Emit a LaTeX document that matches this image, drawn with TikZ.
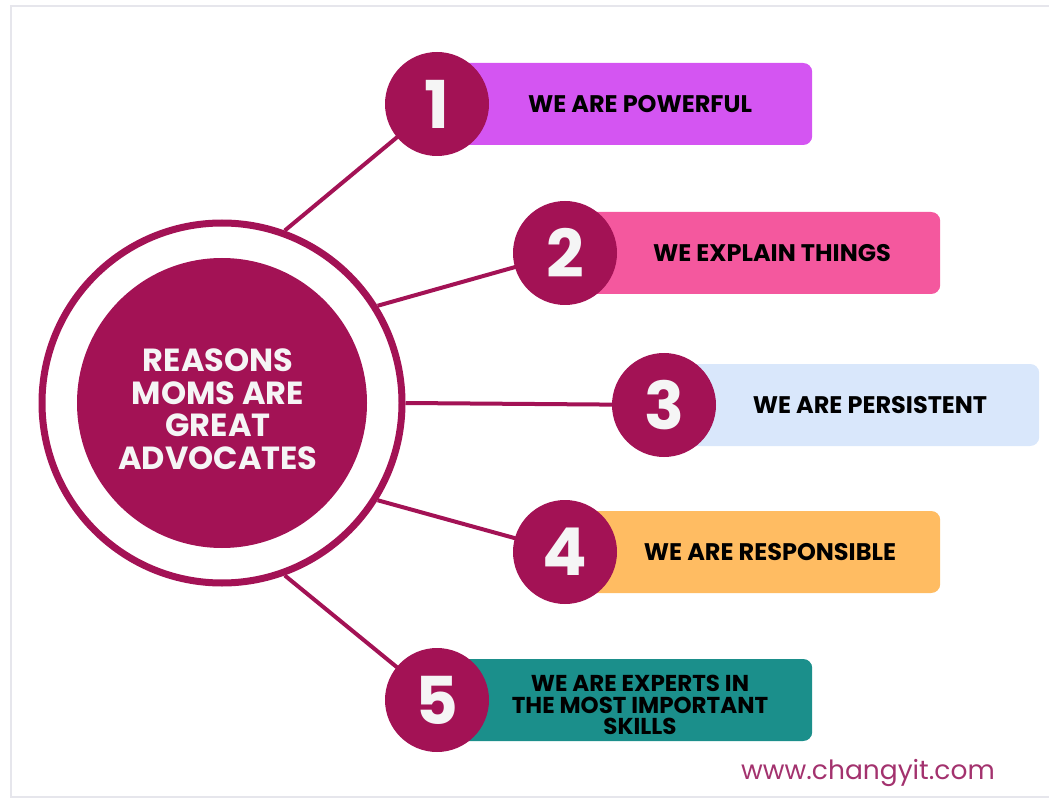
\documentclass[tikz,border=0pt]{standalone}
\usepackage{fontspec}
\setmainfont{Poppins}
\usetikzlibrary{positioning}
\definecolor{wine}{HTML}{A31255}
\definecolor{urlwine}{HTML}{A3326E}
\definecolor{framegray}{HTML}{E6E6EC}
\definecolor{barone}{HTML}{D455F2}
\definecolor{bartwo}{HTML}{F4589E}
\definecolor{barthree}{HTML}{D9E7FB}
\definecolor{barfour}{HTML}{FFBC62}
\definecolor{barfive}{HTML}{1B8F8B}
\tikzset{
  numnode/.style  = {circle, fill=wine, minimum size=104pt, inner sep=0pt,
                     text=white!96!black, font=\bfseries\fontsize{66}{66}\selectfont},
  barbox/.style   = {rounded corners=9pt, minimum width=375pt, minimum height=82pt,
                     inner sep=0pt, anchor=west},
  bartext/.style  = {font=\bfseries\fontsize{24}{24}\selectfont, align=center, text=black},
  spoke/.style    = {draw=wine, line width=4pt}
}

\begin{document}
\begin{tikzpicture}[x=1pt, y=-1pt]
	\useasboundingbox (0,0) rectangle (1049,799);
	\draw[framegray, line width=2pt] (1049,6) -- (11,6) -- (11,797) -- (1049,797);
	% hub
	\node[circle, draw=wine, line width=7pt, minimum size=360pt] (hub) at (222,403) {};
	\node[circle, fill=wine, minimum size=290pt] (core) at (222,403) {};
	\node[text=white!96!black, font=\bfseries\fontsize{32}{32.5}\selectfont, align=center]
		(title) at (218,409) {REASONS\\MOMS ARE\\GREAT\\ADVOCATES};
	% number circles
	\coordinate (c1) at (437,104);
	\coordinate (c2) at (565,253);
	\coordinate (c3) at (664,405);
	\coordinate (c4) at (565,552);
	\coordinate (c5) at (437,700);
	% spokes
	\draw[spoke] (hub.70) -- (c1);
	\draw[spoke] (hub.32) -- (c2);
	\draw[spoke] (hub.0) -- (c3);
	\draw[spoke] (hub.-32) -- (c4);
	\draw[spoke] (hub.-70) -- (c5);
	% bars
	\node[barbox, fill=barone] (bar1) at (c1) {};
	\node[barbox, fill=bartwo] (bar2) at (c2) {};
	\node[barbox, fill=barthree] (bar3) at (c3) {};
	\node[barbox, fill=barfour] (bar4) at (c4) {};
	\node[barbox, fill=barfive] (bar5) at (c5) {};
	\node[numnode] (n1) at (c1) {1};
	\node[numnode] (n2) at (c2) {2};
	\node[numnode] (n3) at (c3) {3};
	\node[numnode] (n4) at (c4) {4};
	\node[numnode] (n5) at (c5) {5};
	% labels
	\node[bartext] (txt1) at ([xshift=203pt]c1) {WE ARE POWERFUL};
	\node[bartext] (txt2) at ([xshift=207pt]c2) {WE EXPLAIN THINGS};
	\node[bartext] (txt3) at ([xshift=206pt]c3) {WE ARE PERSISTENT};
	\node[bartext] (txt4) at ([xshift=205pt]c4) {WE ARE RESPONSIBLE};
	\node[bartext, font=\bfseries\fontsize{23}{21.5}\selectfont] (txt5) at ([xshift=203pt,yshift=-5pt]c5)
		{WE ARE EXPERTS IN\\THE MOST IMPORTANT\\SKILLS};
	\node[text=urlwine, font=\fontsize{26.5}{26.5}\selectfont, anchor=base] (url) at (868,779) {www.changyit.com};
\end{tikzpicture}
\end{document}
